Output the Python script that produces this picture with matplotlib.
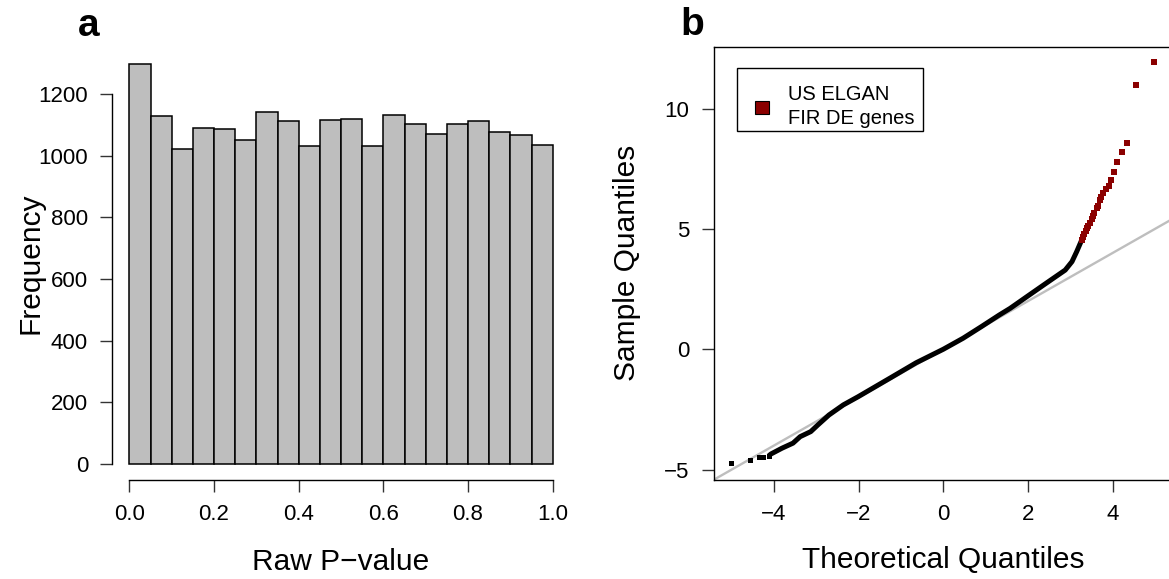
import numpy as np
import matplotlib
matplotlib.use("Agg")
import matplotlib.pyplot as plt
from matplotlib.patches import Rectangle

plt.rcParams["font.family"] = ["Liberation Sans", "DejaVu Sans"]

# panel a: histogram of raw p-values (20 bins of width 0.05)
bin_width = 0.05
pvalue_counts = [1299, 1128, 1021, 1089, 1086, 1052, 1141, 1113, 1031, 1115,
                 1118, 1033, 1131, 1102, 1071, 1104, 1113, 1077, 1066, 1035]
hist_xticks = [0.0, 0.2, 0.4, 0.6, 0.8, 1.0]
hist_xticklabels = ["0.0", "0.2", "0.4", "0.6", "0.8", "1.0"]
hist_yticks = [0, 200, 400, 600, 800, 1000, 1200]

# panel b: QQ plot
# lower tail points (drawn as separate squares)
tail_theo = [-5.01, -4.56, -4.36, -4.25, -4.12]
tail_samp = [-4.73, -4.58, -4.49, -4.49, -4.42]
# dense body of the curve
body_theo = [-4.12, -4.07, -3.81, -3.55, -3.38, -3.13, -2.96, -2.70, -2.36, -2.01,
             -1.24, -0.64, 0.0, 0.47, 0.90, 1.32, 1.58, 1.97, 2.37, 2.60,
             2.88, 3.04, 3.15, 3.27]
body_samp = [-4.42, -4.35, -4.11, -3.90, -3.63, -3.42, -3.14, -2.73, -2.31, -1.97,
             -1.18, -0.56, 0.0, 0.46, 0.94, 1.42, 1.70, 2.18, 2.67, 2.95,
             3.29, 3.64, 4.05, 4.54]
# DE genes (red)
de_theo = [3.27, 3.30, 3.33, 3.36, 3.39, 3.43, 3.47, 3.51, 3.54, 3.57,
           3.62, 3.66, 3.70, 3.73, 3.78, 3.84, 3.92, 3.97, 4.04, 4.11,
           4.21, 4.35, 4.56, 4.98]
de_samp = [4.54, 4.66, 4.78, 4.90, 5.02, 5.12, 5.25, 5.40, 5.55, 5.67,
           5.86, 5.97, 6.20, 6.34, 6.48, 6.67, 6.80, 7.02, 7.35, 7.77,
           8.18, 8.55, 10.96, 11.92]
qq_xticks = [-4, -2, 0, 2, 4]
qq_yticks = [-5, 0, 5, 10]

dark_red = "#8B0000"
tick_size = 16
label_size = 21.5

fig = plt.figure(figsize=(11.69, 5.79), dpi=100)

# ---- panel a ----
ax1 = fig.add_axes([0.0962, 0.171, 0.3911, 0.7475])
lefts = np.arange(len(pvalue_counts)) * bin_width
ax1.bar(lefts, pvalue_counts, width=bin_width, align="edge",
        color="#BEBEBE", edgecolor="black", linewidth=1.1)
ax1.set_xlim(-0.04, 1.04)
ax1.set_ylim(-52, 1352)
ax1.set_xticks(hist_xticks)
ax1.set_xticklabels(hist_xticklabels)
ax1.set_yticks(hist_yticks)
for s in ["top", "right"]:
    ax1.spines[s].set_visible(False)
ax1.spines["left"].set_bounds(0, 1200)
ax1.spines["bottom"].set_bounds(0, 1.0)
ax1.set_xlabel("Raw P\u2212value", fontsize=label_size)
ax1.set_ylabel("Frequency", fontsize=label_size)
ax1.xaxis.label.set_verticalalignment("center")
ax1.yaxis.label.set_verticalalignment("center")
ax1.xaxis.set_label_coords(0.5, -0.189)
ax1.yaxis.set_label_coords(-0.180, 0.5)

# ---- panel b ----
ax2 = fig.add_axes([0.6106, 0.171, 0.3926, 0.7484])
ax2.axline((0, 0), slope=1, color="#BEBEBE", linewidth=1.7, zorder=1)
ax2.plot(body_theo, body_samp, color="black", linewidth=3.6,
         solid_capstyle="butt", zorder=2)
ax2.plot(tail_theo, tail_samp, "s", color="black", markersize=3.6,
         markeredgewidth=0, zorder=2)
ax2.plot(de_theo, de_samp, "s", color=dark_red, markersize=4.4,
         markeredgewidth=0, zorder=3)
ax2.set_xlim(-5.42, 5.42)
ax2.set_ylim(-5.43, 12.57)
ax2.set_xticks(qq_xticks)
ax2.set_yticks(qq_yticks)
ax2.set_xlabel("Theoretical Quantiles", fontsize=label_size)
ax2.set_ylabel("Sample Quantiles", fontsize=label_size)
ax2.xaxis.label.set_verticalalignment("center")
ax2.yaxis.label.set_verticalalignment("center")
ax2.xaxis.set_label_coords(0.5, -0.185)
ax2.yaxis.set_label_coords(-0.189, 0.5)

# legend drawn like R's legend(fill=...)
ax2.add_patch(Rectangle((0.051, 0.806), 0.404, 0.144, transform=ax2.transAxes,
                        facecolor="white", edgecolor="black", linewidth=1.0,
                        zorder=4))
ax2.add_patch(Rectangle((0.106 - 0.0153, 0.860 - 0.015), 0.0305, 0.030,
                        transform=ax2.transAxes, facecolor=dark_red,
                        edgecolor="black", linewidth=0.8, zorder=5))
ax2.text(0.162, 0.889, "US ELGAN", transform=ax2.transAxes, fontsize=14.5,
         va="center", ha="left", zorder=5)
ax2.text(0.162, 0.835, "FIR DE genes", transform=ax2.transAxes, fontsize=14.5,
         va="center", ha="left", zorder=5)

for ax in (ax1, ax2):
    ax.tick_params(labelsize=tick_size, length=8.6, width=1.0, pad=9,
                   color="#333333")
    for sp in ax.spines.values():
        sp.set_linewidth(1.0)

fig.text(0.0761, 0.955, "a", fontsize=28, fontweight="bold", ha="center", va="center")
fig.text(0.592, 0.957, "b", fontsize=28, fontweight="bold", ha="center", va="center")

fig.savefig("out.png", dpi=100)
